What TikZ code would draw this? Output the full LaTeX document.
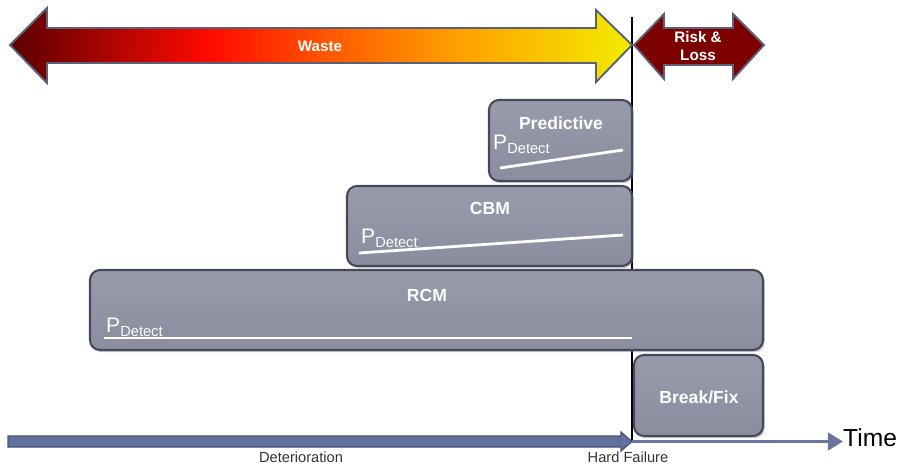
\documentclass[tikz,border=0pt]{standalone}
\usepackage{fontspec}
\setmainfont{Liberation Sans}
\usepackage{xcolor}
\usepackage{tikz}
\usetikzlibrary{positioning}
\usetikzlibrary{shadows}
\usetikzlibrary{arrows.meta}

\definecolor{wastedark}{HTML}{5A0000}
\definecolor{wastered}{HTML}{FF0A00}
\definecolor{wastemid}{HTML}{FF6200}
\definecolor{wasteorange}{HTML}{FFA000}
\definecolor{wasteyellow}{HTML}{F2EC00}
\definecolor{riskred}{HTML}{7D0000}
\definecolor{arrowedge}{HTML}{5A6078}
\definecolor{boxfill}{HTML}{898D9D}
\definecolor{boxtop}{HTML}{979BAB}
\definecolor{boxedge}{HTML}{454959}
\definecolor{timebar}{HTML}{62709E}
\definecolor{timeedge}{HTML}{4A5275}
\definecolor{timeline}{HTML}{6B76A0}
\definecolor{axistext}{HTML}{333333}

\pgfdeclarehorizontalshading{wasteshading}{100bp}{color(0bp)=(wastedark); color(25bp)=(wastedark); color(41bp)=(wastered); color(52bp)=(wastemid); color(61bp)=(wasteorange); color(75bp)=(wasteyellow); color(100bp)=(wasteyellow)}

\tikzset{
	bigarrow/.style={draw=arrowedge, line width=1.6pt, line join=miter},
	arrowlabel/.style={text=white, font=\fontsize{13}{16}\selectfont\bfseries, inner sep=0pt, align=center},
	stagebox/.style={draw=boxedge, line width=1.8pt, top color=boxtop, bottom color=boxfill, rounded corners=8.5pt, drop shadow={opacity=0.4, shadow xshift=1.5pt, shadow yshift=-1.8pt}},
	stagetitle/.style={text=white, font=\fontsize{15}{18}\selectfont\bfseries, inner sep=0pt},
	detect/.style={text=white, anchor=base west, inner sep=0pt},
	detectline/.style={draw=white, line width=2.4pt},
	axislabel/.style={text=axistext, font=\fontsize{12.5}{14}\selectfont, inner sep=0pt}
}

\newcommand{\pdetect}{{\fontsize{18}{18}\selectfont P}\raisebox{-4pt}{\fontsize{12.5}{14}\selectfont Detect}}

\begin{document}
\begin{tikzpicture}[x=0.03cm, y=-0.03cm]

	\useasboundingbox (0,0) rectangle (901,466);

	\coordinate (failtop) at (632,17);
	\coordinate (failure) at (632,441.5);

	\draw [line width=1.7pt] (failtop) -- (failure);

	\shade [shading=wasteshading] (10,45) -- (47,8) -- (47,28) -- (596,28) -- (596,10) -- (632,45) -- (596,82) -- (596,63) -- (47,63) -- (47,83) -- cycle;
	\draw [bigarrow] (10,45) -- (47,8) -- (47,28) -- (596,28) -- (596,10) -- (632,45) -- (596,82) -- (596,63) -- (47,63) -- (47,83) -- cycle;

	\node [arrowlabel] (waste) at (320,46) {Waste};

	\draw [bigarrow, fill=riskred] (634,45) -- (664,14) -- (664,28) -- (733,28) -- (733,14) -- (764,45) -- (733,79) -- (733,65) -- (664,65) -- (664,79) -- cycle;

	\node [arrowlabel] (risk) at (698,46) {Risk \&\\Loss};

	\draw [stagebox] (489,100) rectangle (632,181);

	\node [stagetitle] (predictive) at (561,123) {Predictive};

	\node [detect] (predp) at (493,149) {\pdetect};

	\draw [detectline] (500,168) -- (623,150);

	\draw [stagebox] (347,186) rectangle (632,266);

	\node [stagetitle] (cbm) at (490,208) {CBM};

	\node [detect] (cbmp) at (361,243) {\pdetect};

	\draw [detectline] (359,253) -- (623,235);

	\draw [stagebox] (90,270) rectangle (763,350);

	\node [stagetitle] (rcm) at (427,295) {RCM};

	\node [detect] (rcmp) at (106,332) {\pdetect};

	\draw [detectline] (104,338) -- (632,338);

	\draw [stagebox] (634,355) rectangle (763,436);

	\node [stagetitle] (breakfix) at (699,397) {Break/Fix};

	\draw [fill=timebar, draw=timeedge, line width=1pt] (8,436) -- (621,436) -- (621,432) -- (632,441.5) -- (621,451) -- (621,447) -- (8,447) -- cycle;

	\node [anchor=west, inner sep=0pt, font=\fontsize{21}{24}\selectfont] (time) at (843,438) {Time};

	\draw [draw=timeline, line width=3pt, -{Triangle[length=13pt, width=15pt]}] (failure) -- (failure -| time.west);

	\node [axislabel] (deterioration) at (301,457) {Deterioration};

	\node [axislabel] (hardfailure) at (628,457) {Hard Failure};

\end{tikzpicture}
\end{document}
